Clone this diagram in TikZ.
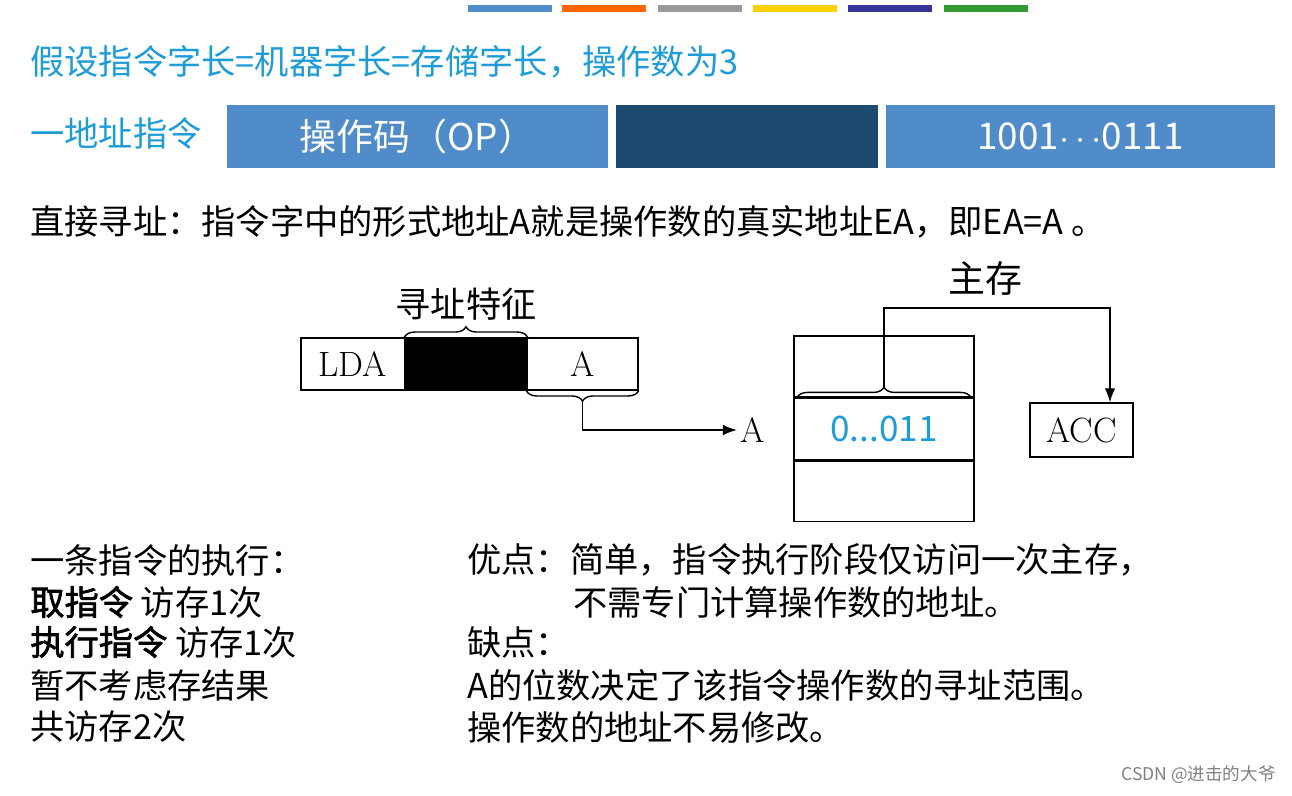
\documentclass[tikz,border=0pt]{standalone}
\usepackage{fontspec}
\setmainfont{Noto Sans CJK SC}[AutoFakeBold=2]
\newfontfamily\lmfont{Latin Modern Roman}
\usetikzlibrary{positioning,decorations.pathreplacing,arrows.meta}
\definecolor{titlecyan}{HTML}{1E9CD7}
\definecolor{opblue}{HTML}{4F8CC9}
\definecolor{opdark}{HTML}{1F4A70}
\tikzset{
	txt/.style={anchor=west,inner sep=0pt,font=\fontsize{19.5}{22}\selectfont},
	bar/.style={minimum width=1.68cm,minimum height=0.14cm,inner sep=0pt},
	field/.style={fill=opblue,text=white,inner sep=0pt,font=\fontsize{21}{24}\selectfont},
	cell/.style={draw,thick,inner sep=0pt,font=\lmfont\fontsize{20}{22}\selectfont},
	brc/.style={decorate,decoration={brace,amplitude=6pt},thick}
}
\begin{document}
\begin{tikzpicture}[x=0.02cm,y=-0.02cm]
	\useasboundingbox (0,0) rectangle (1292,795);
	% colour bars
	\node[bar,fill=opblue] (b1) at (510,8) {};
	\node[bar,fill=orange!80!red] (b2) at (604,8) {};
	\node[bar,fill=gray!80] (b3) at (700,8) {};
	\node[bar,fill=yellow!70!orange] (b4) at (795,8) {};
	\node[bar,fill=blue!50!black!80] (b5) at (890,8) {};
	\node[bar,fill=green!50!black!80] (b6) at (986,8) {};
	% header
	\node[txt,text=titlecyan] (title) at (30,62) {假设指令字长=机器字长=存储字长，操作数为3};
	\node[txt,text=titlecyan] (kind) at (30,133) {一地址指令};
	\node[field,minimum width=7.62cm,minimum height=1.26cm] (op) at (417.5,136.5) {操作码（OP）};
	\node[field,fill=opdark,minimum width=5.24cm,minimum height=1.26cm] (mode) at (747,136.5) {};
	\node[field,minimum width=7.78cm,minimum height=1.26cm] (addr) at (1080.5,136.5) {1001$\cdots$0111};
	\node[txt] (def) at (30,222) {直接寻址：指令字中的形式地址A就是操作数的真实地址EA，即EA=A 。};
	% instruction
	\node[cell,minimum width=2.08cm,minimum height=1.04cm] (lda) at (353,364) {LDA};
	\node[cell,fill=black,minimum width=2.44cm,minimum height=1.04cm] (feat) at (466,364) {};
	\node[cell,minimum width=2.22cm,minimum height=1.04cm] (fa) at (582.5,364) {A};
	\draw[brc] (feat.north west) -- (feat.north east) node[midway,above=6pt,font=\fontsize{20}{22}\selectfont] (featlbl) {寻址特征};
	\draw[brc] (fa.south east) -- (fa.south west) coordinate[midway,yshift=-6pt] (fatip);
	\node[font=\lmfont\fontsize{20}{22}\selectfont,inner sep=2pt] (ea) at (753,430) {A};
	\draw[thick,-{Latex[length=8pt]}] (fatip) |- (ea.west);
	% memory
	\node[cell,minimum width=3.6cm,minimum height=1.22cm] (m1) at (884,366.5) {};
	\node[cell,minimum width=3.6cm,minimum height=1.22cm,text=titlecyan,font=\fontsize{20}{22}\selectfont,below=0pt of m1] (m2) {0...011};
	\node[cell,minimum width=3.6cm,minimum height=1.22cm,below=0pt of m2] (m3) {};
	\draw[brc] ([xshift=2pt]m2.north west) -- ([xshift=-2pt]m2.north east) coordinate[midway,yshift=6pt] (mtip);
	\node[cell,minimum width=2.06cm,minimum height=1.08cm] (acc) at (1081.5,430) {ACC};
	\coordinate (bend) at (1110,308);
	\draw[thick,-{Latex[length=8pt]}] (mtip) |- (bend) -- (bend |- acc.north);
	\node[font=\fontsize{21}{24}\selectfont] (mem) at (985,278) {主存};
	% notes
	\node[txt] (n1) at (30,560) {一条指令的执行：};
	\node[txt] (n2) at (30,602) {\textbf{取指令} 访存1次};
	\node[txt] (n3) at (30,642) {\textbf{执行指令} 访存1次};
	\node[txt] (n4) at (30,685) {暂不考虑存结果};
	\node[txt] (n5) at (30,727) {共访存2次};
	\node[txt] (p1) at (467,560) {优点：简单，指令执行阶段仅访问一次主存，};
	\node[txt] (p2) at (573,602) {不需专门计算操作数的地址。};
	\node[txt] (c1) at (467,642) {缺点：};
	\node[txt] (c2) at (467,685) {A的位数决定了该指令操作数的寻址范围。};
	\node[txt] (c3) at (467,727) {操作数的地址不易修改。};
	\node[anchor=east,inner sep=0pt,text=gray,font=\fontsize{10}{12}\selectfont] (wm) at (1276,775) {CSDN @进击的大爷};
\end{tikzpicture}
\end{document}
